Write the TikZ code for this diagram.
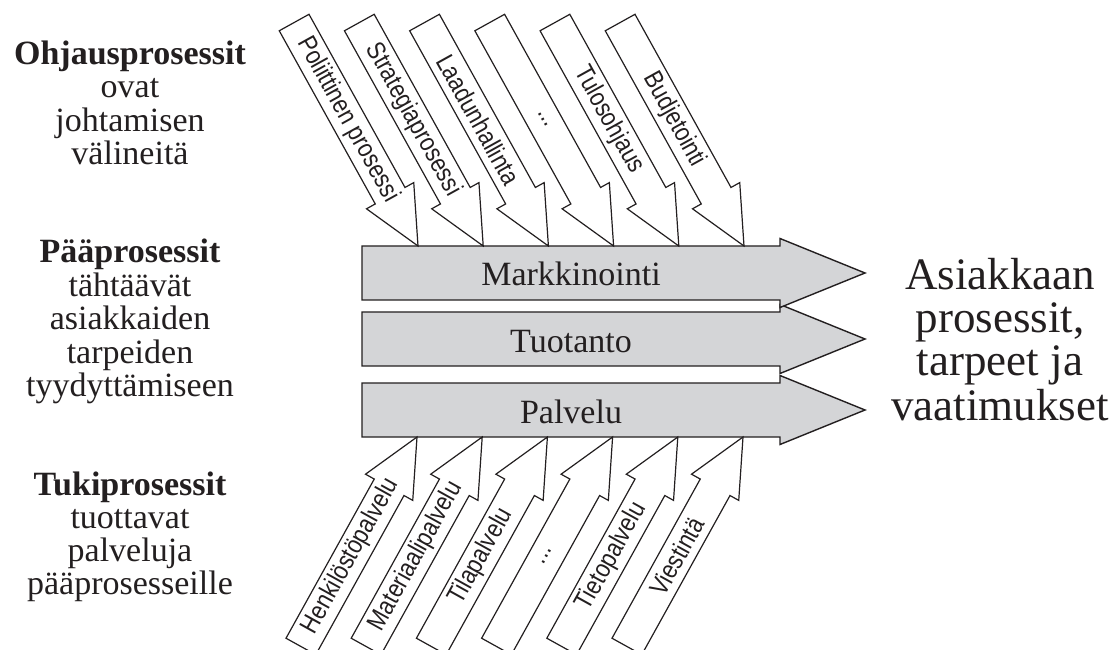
\documentclass[tikz,border=0pt]{standalone}
\usepackage{fontspec}
\setmainfont{Liberation Serif}
\newfontfamily\narrowsans[FakeStretch=0.85]{Liberation Sans}
\definecolor{ink}{HTML}{231F20}
\definecolor{arrowgray}{HTML}{D4D5D7}
\tikzset{
  mainarrow/.style={draw=ink, fill=arrowgray, line width=1.4pt, line join=miter},
  smallarrow/.style={draw=ink, fill=white, line width=1.2pt, line join=miter},
  arrowlabel/.style={font=\narrowsans\fontsize{26}{26}\selectfont, inner sep=0pt, text=ink},
  mainlabel/.style={font=\fontsize{34}{34}\selectfont, anchor=base, inner sep=0pt, text=ink},
  sidetext/.style={anchor=base, inner sep=0pt, text=ink},
}
\newcommand\smallblockarrow[6]{% name, tip x, tip y, angle, shaft length, label
  \begin{scope}[shift={(#2,#3)}, rotate=#4]
    \draw[smallarrow] (0,0) -- (-57.5,27) -- (-57.5,17) -- ({-57.5-#5},17)
      -- ({-57.5-#5},-17) -- (-57.5,-17) -- (-57.5,-27) -- cycle;
    \node[arrowlabel, rotate=#4] (#1) at ({-57.5-#5/2+12},0) {#6};
  \end{scope}}
\newcommand\mainblockarrow[3]{% name, center y, label
  \draw[mainarrow] (362,{#2-27}) -- (780,{#2-27}) -- (780,{#2-34.5}) -- (865,#2)
    -- (780,{#2+34.5}) -- (780,{#2+27}) -- (362,{#2+27}) -- cycle;
  \node[mainlabel] (#1) at (571,{#2-13}) {#3};}
\begin{document}
\begin{tikzpicture}[x=1pt,y=1pt]
\useasboundingbox (0,0) rectangle (1117,649);
\fill[white] (0,0) rectangle (1117,649);

% main process arrows
\mainblockarrow{palvelu}{239}{Palvelu}
\mainblockarrow{tuotanto}{310}{Tuotanto}
\mainblockarrow{markkinointi}{376}{Markkinointi}

% steering processes (top)
\smallblockarrow{pol}{418}{403}{-61}{198}{Poliittinen prosessi}
\smallblockarrow{str}{483.2}{403}{-61}{198}{Strategiaprosessi}
\smallblockarrow{laa}{548.4}{403}{-61}{198}{Laadunhallinta}
\smallblockarrow{dotsa}{613.6}{403}{-61}{198}{...}
\smallblockarrow{tul}{678.8}{403}{-61}{198}{Tulosohjaus}
\smallblockarrow{bud}{744}{403}{-61}{198}{Budjetointi}

% support processes (bottom)
\smallblockarrow{hen}{417}{212}{61}{182}{Henkilöstöpalvelu}
\smallblockarrow{mat}{482.2}{212}{61}{182}{Materiaalipalvelu}
\smallblockarrow{til}{547.4}{212}{61}{182}{Tilapalvelu}
\smallblockarrow{dotsb}{612.6}{212}{61}{182}{...}
\smallblockarrow{tie}{677.8}{212}{61}{182}{Tietopalvelu}
\smallblockarrow{vie}{743}{212}{61}{182}{Viestintä}

% left descriptions
\node[sidetext] (ohjaus) at (130,584) {\fontsize{34}{33}\selectfont
  \begin{tabular}[t]{@{}c@{}}\textbf{Ohjausprosessit}\\ ovat\\ johtamisen\\ välineitä\end{tabular}};
\node[sidetext] (paa) at (130,386) {\fontsize{34}{33}\selectfont
  \begin{tabular}[t]{@{}c@{}}\textbf{Pääprosessit}\\ tähtäävät\\ asiakkaiden\\ tarpeiden\\ tyydyttämiseen\end{tabular}};
\node[sidetext] (tuki) at (130,154) {\fontsize{34}{33}\selectfont
  \begin{tabular}[t]{@{}c@{}}\textbf{Tukiprosessit}\\ tuottavat\\ palveluja\\ pääprosesseille\end{tabular}};

% right description
\node[sidetext] (asiakas) at (1000,359.7) {\fontsize{45}{43.3}\selectfont
  \begin{tabular}[t]{@{}c@{}}Asiakkaan\\ prosessit,\\ tarpeet ja\\ vaatimukset\end{tabular}};
\end{tikzpicture}
\end{document}
